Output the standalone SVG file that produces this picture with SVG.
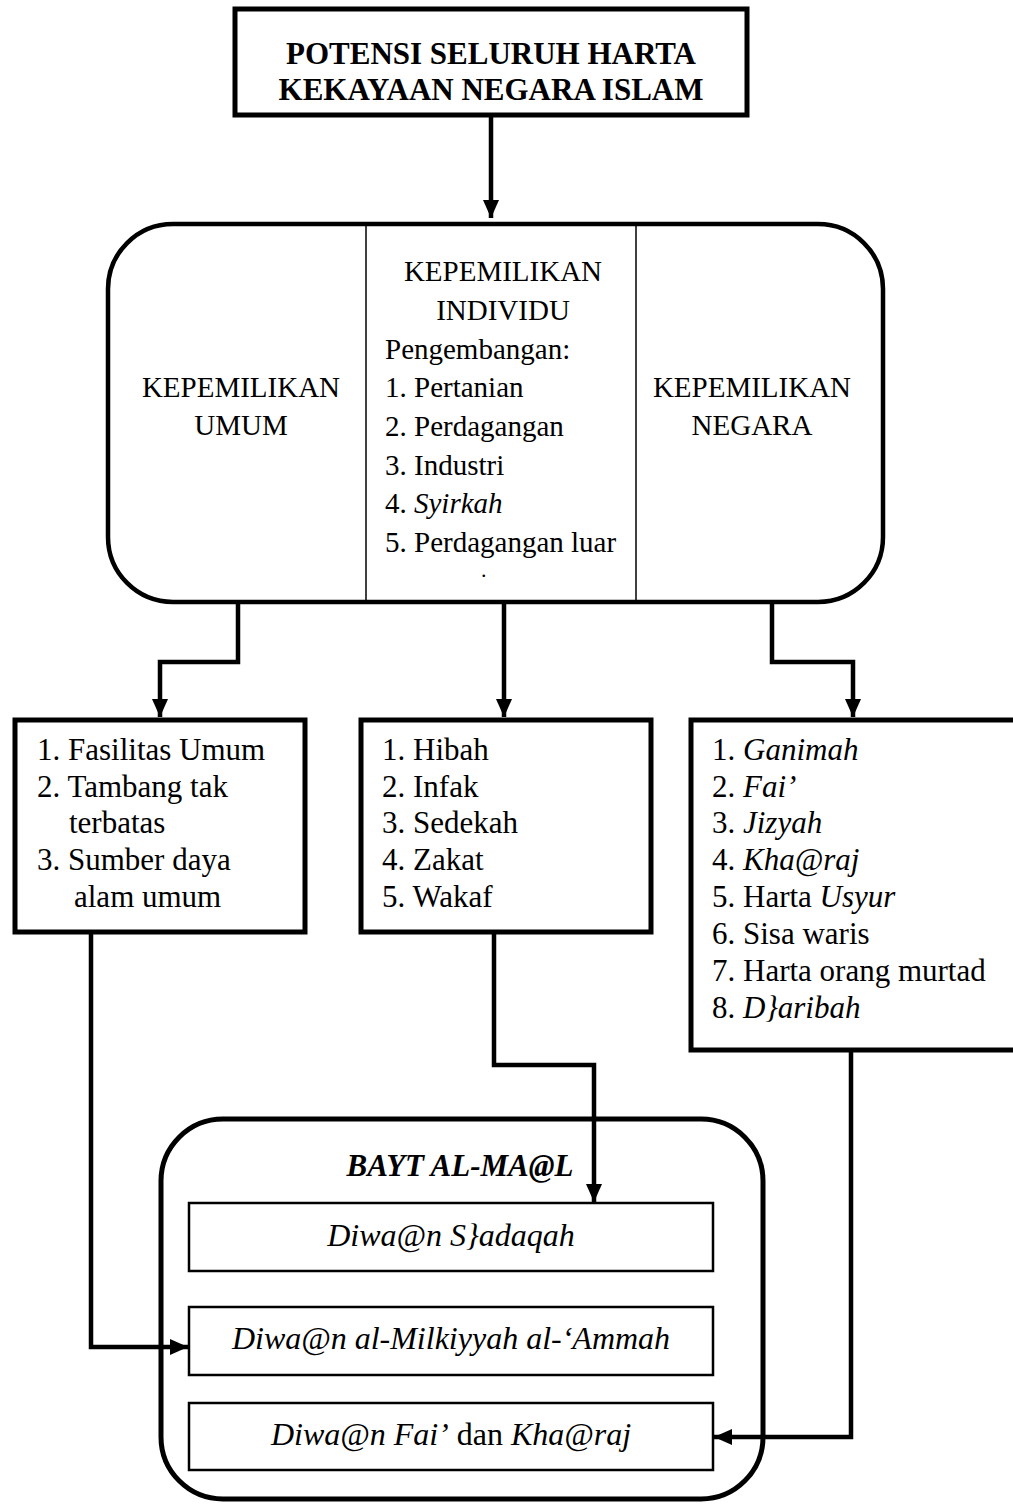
<svg xmlns="http://www.w3.org/2000/svg" width="1013" height="1504" viewBox="0 0 1013 1504">
<style>
text{font-family:"Liberation Serif","Times New Roman",serif;fill:#000}
.t{font-size:31px;font-weight:bold}
.h{font-size:29px}
.l{font-size:31px}
.d{font-size:32px;font-style:italic}
.i{font-style:italic}
.box{fill:#fff;stroke:#000;stroke-width:5}
.inner{fill:#fff;stroke:#000;stroke-width:2.5}
.div{stroke:#000;stroke-width:1.5}
.con{fill:none;stroke:#000;stroke-width:4.5}
</style>
<defs>
<marker id="ah" markerUnits="userSpaceOnUse" markerWidth="18" markerHeight="18" viewBox="0 0 18 18" refX="18" refY="9" orient="auto">
<path d="M0,1 L18,9 L0,17 Z" fill="#000"/>
</marker>
</defs>
<rect width="1013" height="1504" fill="#fff"/>

<g id="connectors">
<path class="con" d="M491,115 V218" marker-end="url(#ah)"/>
<path class="con" d="M238,602 V662 H160 V717" marker-end="url(#ah)"/>
<path class="con" d="M504,602 V717" marker-end="url(#ah)"/>
<path class="con" d="M772,602 V662 H853 V717" marker-end="url(#ah)"/>
<path class="con" d="M494,932 V1065 H594 V1202" marker-end="url(#ah)"/>
<path class="con" d="M91,932 V1347 H188" marker-end="url(#ah)"/>
<path class="con" d="M851,1050 V1437 H714" marker-end="url(#ah)"/>
</g>

<g id="title">
<rect class="box" x="235" y="9" width="512" height="106"/>
<text class="t" x="491" y="64" text-anchor="middle">POTENSI SELURUH HARTA</text>
<text class="t" x="491" y="100" text-anchor="middle">KEKAYAAN NEGARA ISLAM</text>
</g>

<g id="kepemilikan">
<rect x="108" y="224" width="775" height="378" rx="65" ry="65" fill="#fff" stroke="#000" stroke-width="4.5"/>
<line class="div" x1="366" y1="224" x2="366" y2="602"/>
<line class="div" x1="636" y1="224" x2="636" y2="602"/>
</g>

<g id="umum">
<text class="h" x="241" y="397" text-anchor="middle">KEPEMILIKAN</text>
<text class="h" x="241" y="435" text-anchor="middle">UMUM</text>
</g>

<g id="individu">
<text class="h" x="503" y="281" text-anchor="middle">KEPEMILIKAN</text>
<text class="h" x="503" y="320" text-anchor="middle">INDIVIDU</text>
<text class="h" x="385" y="359">Pengembangan:</text>
<text class="h" x="385" y="397">1. Pertanian</text>
<text class="h" x="385" y="436">2. Perdagangan</text>
<text class="h" x="385" y="475">3. Industri</text>
<text class="h" x="385" y="513">4. <tspan class="i">Syirkah</tspan></text>
<text class="h" x="385" y="552">5. Perdagangan luar</text>
<text x="481" y="577" style="font-size:22px">.</text>
</g>

<g id="negara">
<text class="h" x="752" y="397" text-anchor="middle">KEPEMILIKAN</text>
<text class="h" x="752" y="435" text-anchor="middle">NEGARA</text>
</g>

<g id="box-umum">
<rect class="box" x="15" y="720" width="290" height="212"/>
<text class="l" x="37" y="760">1. Fasilitas Umum</text>
<text class="l" x="37" y="797">2. Tambang tak</text>
<text class="l" x="69" y="833">terbatas</text>
<text class="l" x="37" y="870">3. Sumber daya</text>
<text class="l" x="74" y="907">alam umum</text>
</g>

<g id="box-individu">
<rect class="box" x="361" y="720" width="290" height="212"/>
<text class="l" x="382" y="760">1. Hibah</text>
<text class="l" x="382" y="797">2. Infak</text>
<text class="l" x="382" y="833">3. Sedekah</text>
<text class="l" x="382" y="870">4. Zakat</text>
<text class="l" x="382" y="907">5. Wakaf</text>
</g>

<g id="box-negara">
<rect class="box" x="691" y="720" width="340" height="330"/>
<text class="l" x="712" y="760">1. <tspan class="i">Ganimah</tspan></text>
<text class="l" x="712" y="797">2. <tspan class="i">Fai’</tspan></text>
<text class="l" x="712" y="833">3. <tspan class="i">Jizyah</tspan></text>
<text class="l" x="712" y="870">4. <tspan class="i">Kha@raj</tspan></text>
<text class="l" x="712" y="907">5. Harta <tspan class="i">Usyur</tspan></text>
<text class="l" x="712" y="944">6. Sisa waris</text>
<text class="l" x="712" y="981">7. Harta orang murtad</text>
<text class="l" x="712" y="1018">8. <tspan class="i">D}aribah</tspan></text>
</g>

<g id="bayt-al-mal">
<rect x="161" y="1119" width="602" height="380" rx="62" ry="62" fill="none" stroke="#000" stroke-width="5"/>
<text x="460" y="1176" text-anchor="middle" style="font-size:31px;font-weight:bold;font-style:italic">BAYT AL-MA@L</text>
</g>

<g id="diwan-sadaqah">
<rect class="inner" x="189" y="1203" width="524" height="68"/>
<text class="d" x="451" y="1246" text-anchor="middle">Diwa@n S}adaqah</text>
</g>

<g id="diwan-milkiyyah">
<rect class="inner" x="189" y="1307" width="524" height="68"/>
<text class="d" x="451" y="1349" text-anchor="middle">Diwa@n al-Milkiyyah al-‘Ammah</text>
</g>

<g id="diwan-fai">
<rect class="inner" x="189" y="1403" width="524" height="67"/>
<text class="d" x="451" y="1445" text-anchor="middle">Diwa@n Fai’<tspan style="font-style:normal"> dan </tspan>Kha@raj</text>
</g>
</svg>
